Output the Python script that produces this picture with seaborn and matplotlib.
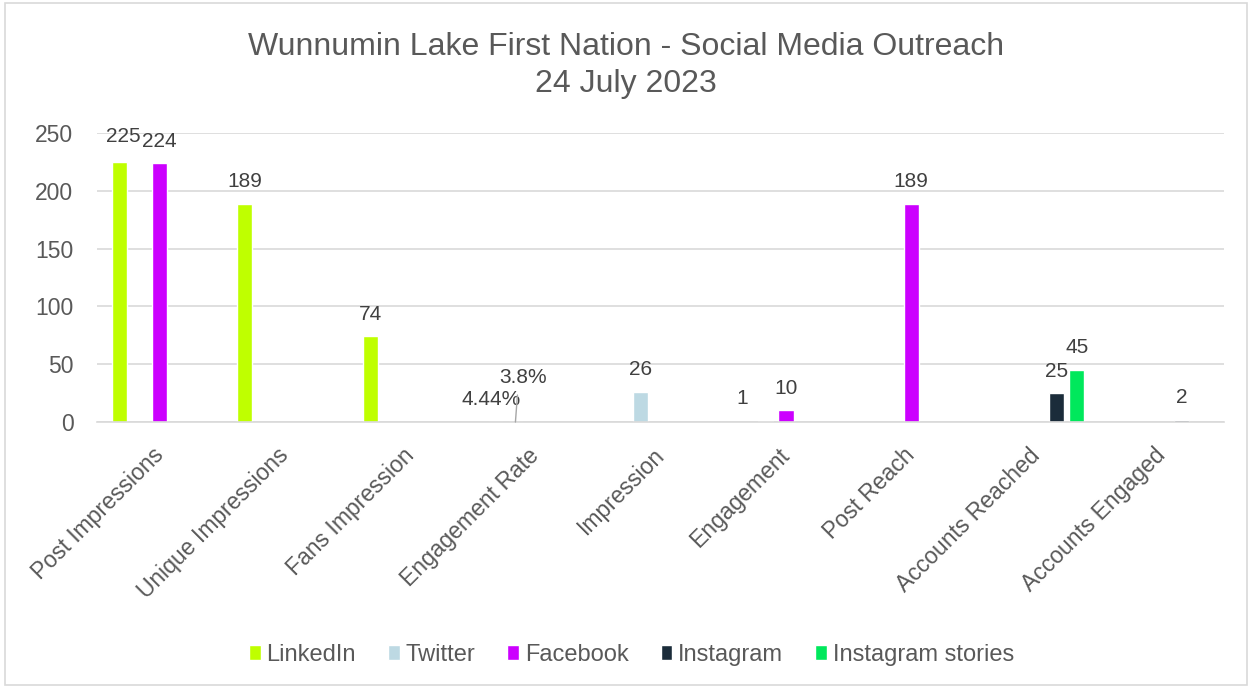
import matplotlib.pyplot as plt
from matplotlib.patches import Rectangle
from matplotlib.transforms import ScaledTranslation
import seaborn as sns
import pandas as pd

sns.set_theme(style="white")
plt.rcParams['font.family'] = ['Liberation Sans', 'DejaVu Sans']

categories = ["Post Impressions", "Unique Impressions", "Fans Impression", "Engagement Rate",
              "Impression", "Engagement", "Post Reach", "Accounts Reached", "Accounts Engaged"]
platforms = ["LinkedIn", "Twitter", "Facebook", "Instagram", "Instagram stories"]
colors = ["#BFFF00", "#BDD9E3", "#CC00FF", "#1B2C3A", "#00E85C"]

# values per platform (None = no bar)
linkedin = [225, 189, 74, 0.0444, None, None, None, None, None]
twitter = [None, None, None, 0.038, 26, 1, None, None, None]
facebook = [224, None, None, None, None, 10, 189, None, None]
instagram = [None, None, None, None, None, None, None, 25, 2]
insta_stories = [None, None, None, None, None, None, None, 45, None]

series = [linkedin, twitter, facebook, instagram, insta_stories]
rows = []
for p, vals in zip(platforms, series):
    for c, v in zip(categories, vals):
        if v is not None:
            rows.append({"Category": c, "Platform": p, "Value": v})
df = pd.DataFrame(rows)

fig = plt.figure(figsize=(12.52, 6.88), dpi=100)
ax = fig.add_axes([0.0775, 0.3866, 0.9005, 0.4201])

sns.barplot(data=df, x="Category", y="Value", hue="Platform", order=categories,
            hue_order=platforms, palette=colors, width=0.8, gap=0.25,
            saturation=1, ax=ax, legend=True)

grey = "#595959"
ax.set_ylim(0, 250)
ax.set_yticks(range(0, 251, 50))
ax.yaxis.grid(True, color="#D9D9D9", linewidth=1.2)
ax.set_axisbelow(True)
for s in ["top", "right", "left"]:
    ax.spines[s].set_visible(False)
ax.spines["bottom"].set_color("#D9D9D9")
ax.spines["bottom"].set_linewidth(1.2)
ax.set_xlabel("")
ax.set_ylabel("")
ax.tick_params(axis="both", length=0, labelsize=16.5, colors=grey)
ax.tick_params(axis="y", pad=17)
ax.tick_params(axis="x", pad=12)
shift = ScaledTranslation(-0.08, -0.05, fig.dpi_scale_trans)
for lbl in ax.get_xticklabels():
    lbl.set_rotation(45)
    lbl.set_ha("right")
    lbl.set_rotation_mode("anchor")
    lbl.set_transform(lbl.get_transform() + shift)

# data labels
special = {("LinkedIn", "Engagement Rate"): (-4, 22, "4.44%"),
           ("Twitter", "Engagement Rate"): (8, 44, "3.8%"),
           ("Twitter", "Engagement"): (-24, 22, "1"),
           ("LinkedIn", "Post Impressions"): (4, 25, None)}
for cont, p, vals in zip(ax.containers, platforms, series):
    present = [(c, v) for c, v in zip(categories, vals) if v is not None]
    for bar, (c, v) in zip(cont, present):
        dx, dy, txt = special.get((p, c), (0, 22, None))
        if txt is None:
            txt = f"{v:g}"
        x = bar.get_x() + bar.get_width() / 2
        ax.annotate(txt, (x, v), xytext=(dx, dy), textcoords="offset pixels",
                    ha="center", va="center", fontsize=15, color="#404040")
        if (p, c) == ("Twitter", "Engagement Rate"):
            ax.annotate("", (x, 0), xytext=(2, 27), textcoords="offset pixels",
                        arrowprops=dict(arrowstyle="-", color="#A6A6A6", lw=1,
                                        shrinkA=0, shrinkB=0))

ax.legend(loc="center", bbox_to_anchor=(0.474, -0.805), ncol=5, frameon=False,
          fontsize=17, handlelength=0.5, handleheight=0.6, handletextpad=0.25,
          columnspacing=1.35, labelcolor=grey)

fig.suptitle("Wunnumin Lake First Nation - Social Media Outreach\n24 July 2023",
             y=0.953, fontsize=23, color=grey, linespacing=1.3)
fig.patches.append(Rectangle((0.004, 0.004), 0.992, 0.992, transform=fig.transFigure,
                             fill=False, edgecolor="#D9D9D9", linewidth=1.2))

fig.savefig("out.png", dpi=100)
